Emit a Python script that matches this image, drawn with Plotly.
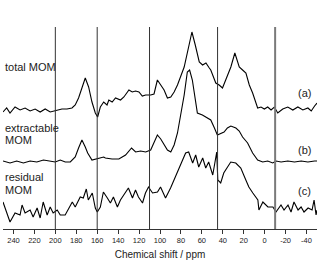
import plotly.graph_objects as go

# ---- data ----
ppm_total = [250, 246.5, 243.3, 238.5, 233.7, 228.9, 224.1, 219.3, 214.5, 209.7, 204.9, 201.7, 198.5, 193.7,
             188.9, 184.1, 181, 177.8, 174.6, 171.4, 168.2, 165, 161.8, 159.6, 157, 153.8, 150.6, 148.9, 145.7,
             142.5, 137.7, 134.5, 129.7, 126.5, 123.3, 120.1, 116.9, 113.7, 108.9, 105.7, 102.5, 99.3, 96.1,
             92.9, 89.7, 86.5, 83.3, 76.9, 72.7, 69.5, 66.3, 62.5, 59.3, 56.1, 52.9, 51.5, 46.7, 43.5, 40.3,
             37.1, 32.3, 28.5, 24.3, 21.1, 17.9, 14.7, 11.5, 6.7, 3.5, 0.3, -2.9, -6.1, -9.3, -12.5, -17.3,
             -22.1, -26.9, -31.7, -36.5, -41.3, -44.5, -47.7, -50]
int_total = [-2, 2, -3, 3, 0, 2, -1, 1, -2, 1, -2, -1, 0, 1,
             1, 2, 5, 12, 22, 32, 23, 8, -3, -7, 3, 8, 5, 10, 8,
             12, 10, 13, 20, 18, 19, 18, 14, 15, 15, 16, 30, 25, 20,
             12, 13, 18, 25, 43, 65, 78, 65, 48, 45, 47, 42, 40, 27, 25, 22,
             30, 43, 57, 43, 40, 37, 25, 17, 2, 3, 1, 3, 0, 3, -3, 1,
             3, 0, 3, 0, 2, -1, 4, 7]

ppm_extr = [250, 243.3, 236.9, 230.5, 224.1, 217.7, 211.3, 204.9, 200.1, 195.3, 190.5, 185.7, 181, 177.8,
            174.6, 171.4, 169.1, 165, 160.2, 153.8, 152.2, 145.8, 139.3, 132.9, 127.2, 123.3, 118.5, 113.7,
            108.9, 105.7, 102.5, 99.3, 96.1, 92.9, 89.7, 86.5, 83.3, 80.1, 76.9, 73.9, 71.7, 69.1, 66.5,
            64.3, 59.5, 56.3, 51.5, 48, 45.2, 38.8, 35.6, 32.3, 27.5, 24.3, 21.1, 16.3, 11.5, 6.7, 1.9,
            -2.9, -7.7, -10.9, -15.7, -22.1, -28.5, -34.9, -41.3, -47.7, -50]
int_extr = [1, -1, 1, -1, 1, 0, 2, 1, 0, 2, 0, 0, 5, 14,
            22, 15, 9, 2, 3, 5, 4, 3, 3, 7, 14, 10, 11, 10,
            12, 19, 27, 23, 17, 12, 10, 17, 29, 47, 67, 90, 92, 82, 62,
            49, 47, 45, 42, 34, 27, 30, 34, 36, 34, 31, 25, 19, 9, 2, 0,
            1, -1, 1, 0, 1, 0, 1, 0, 1, 1]

ppm_resid = [250, 246.2, 243.3, 238.5, 233.7, 231.8, 228.9, 224.1, 221.2, 217.4, 214.5, 211.6, 207.8, 204.9,
             202.1, 198.2, 195.3, 190.6, 187.7, 183.8, 181, 176.2, 173.3, 170.4, 168.5, 164.7, 161.8, 159.9,
             157, 154.1, 150.3, 147.4, 144.5, 140.7, 137.8, 133, 130.2, 126.3, 123.4, 120.6, 116.7, 113.9,
             111, 107.1, 102.4, 99.5, 94.7, 89.9, 85.1, 82.2, 78.4, 75.5, 72.6, 68.8, 65.9, 63, 59.2, 56.3,
             53.5, 49.6, 47.7, 45.8, 44.8, 42, 39.1, 35.2, 32.4, 27.6, 22.8, 18, 15.1, 11.3, 6.5, 5.5, 1.7,
             -3.1, -7.9, -10.8, -15.6, -18.5, -22.3, -25.2, -28, -31.9, -34.8, -37.6, -41.5, -45.3, -47.2,
             -49.1, -50]
int_resid = [8, -3, -12, -3, -5, 5, -3, 0, -7, 2, -8, 8, -5, 3,
             -3, 0, -5, -5, 0, 8, 3, 13, 12, 21, 10, 17, 2, -2,
             3, 18, 12, 7, 13, 3, 10, 17, 22, 12, 20, 13, 7, 17,
             23, 17, 18, 23, 12, 22, 33, 40, 50, 57, 58, 47, 55, 43, 52, 42,
             48, 35, 48, 58, 30, 27, 37, 43, 48, 47, 42, 30, 23, 17, 10, 0, 8,
             3, 3, -2, 5, 0, 5, -2, 8, 0, 3, -2, 2, 0, 10,
             -5, 0]

region_bounds = [200, 160, 110, 45]
reference_line = -10
tick_vals = [240, 220, 200, 180, 160, 140, 120, 100, 80, 60, 40, 20, 0, -20, -40]
tick_text = ["240", "220", "200", "180", "160", "140", "120", "100", "80", "60", "40", "20", "0", "-20", "-40"]

series = [
    ("total MOM", ppm_total, int_total, 119),
    ("extractable MOM", ppm_extr, int_extr, 67),
    ("residual MOM", ppm_resid, int_resid, 19),
]

FONT = "Liberation Sans, Arial, sans-serif"
TXT = "#222222"

fig = go.Figure()
for name, xs, ys, off in series:
    fig.add_trace(go.Scatter(x=xs, y=[v + off for v in ys], mode="lines",
                             line=dict(color="black", width=1.1), name=name,
                             showlegend=False, hoverinfo="skip"))

for b in region_bounds:
    fig.add_shape(type="line", xref="x", yref="paper", x0=b, x1=b, y0=0, y1=1,
                  line=dict(color="#333333", width=1))
fig.add_shape(type="line", xref="x", yref="paper", x0=reference_line, x1=reference_line, y0=0, y1=1,
              line=dict(color="#7a7a7a", width=2))

def ann(text, x, y, xanchor="center", size=9):
    fig.add_annotation(text=text, x=x, y=y, xref="x", yref="y", showarrow=False,
                       xanchor=xanchor, yanchor="middle", font=dict(size=size, color=TXT, family=FONT))

ann("carbonyl/", 183, 222)
ann("carboxyl C", 183, 208)
ann("phenolic/", 131, 222)
ann("aromatic C", 133, 208)
ann("O/N alkyl C", 75.5, 208)
ann("alkyl C", 16, 208)
ann("total MOM", 250, 162, "left", 11)
ann("extractable", 250, 101, "left", 11)
ann("MOM", 250, 89, "left", 11)
ann("residual", 250, 52, "left", 11)
ann("MOM", 250, 39, "left", 11)
ann("(a)", -37.6, 136, "center", 11)
ann("(b)", -37.6, 79, "center", 11)
ann("(c)", -37.6, 38, "center", 11)

fig.update_xaxes(range=[250, -50], tickvals=tick_vals, ticktext=tick_text, ticks="outside", ticklen=4,
                 tickwidth=1, tickcolor="#333333", showline=True, linecolor="#333333", linewidth=1,
                 showgrid=False, zeroline=False,
                 tickfont=dict(size=7.5, color=TXT, family=FONT),
                 title=dict(text="Chemical shift / ppm", font=dict(size=10, color=TXT, family=FONT),
                            standoff=6))
fig.update_yaxes(range=[0, 202], visible=False, showgrid=False, zeroline=False)

fig.update_layout(width=320, height=269, margin=dict(l=3, r=3, t=27, b=40),
                  plot_bgcolor="white", paper_bgcolor="white", showlegend=False)

fig.write_html("out.html", config={"displayModeBar": False},
               post_script="document.body.style.margin='0';document.body.style.overflow='hidden';")
